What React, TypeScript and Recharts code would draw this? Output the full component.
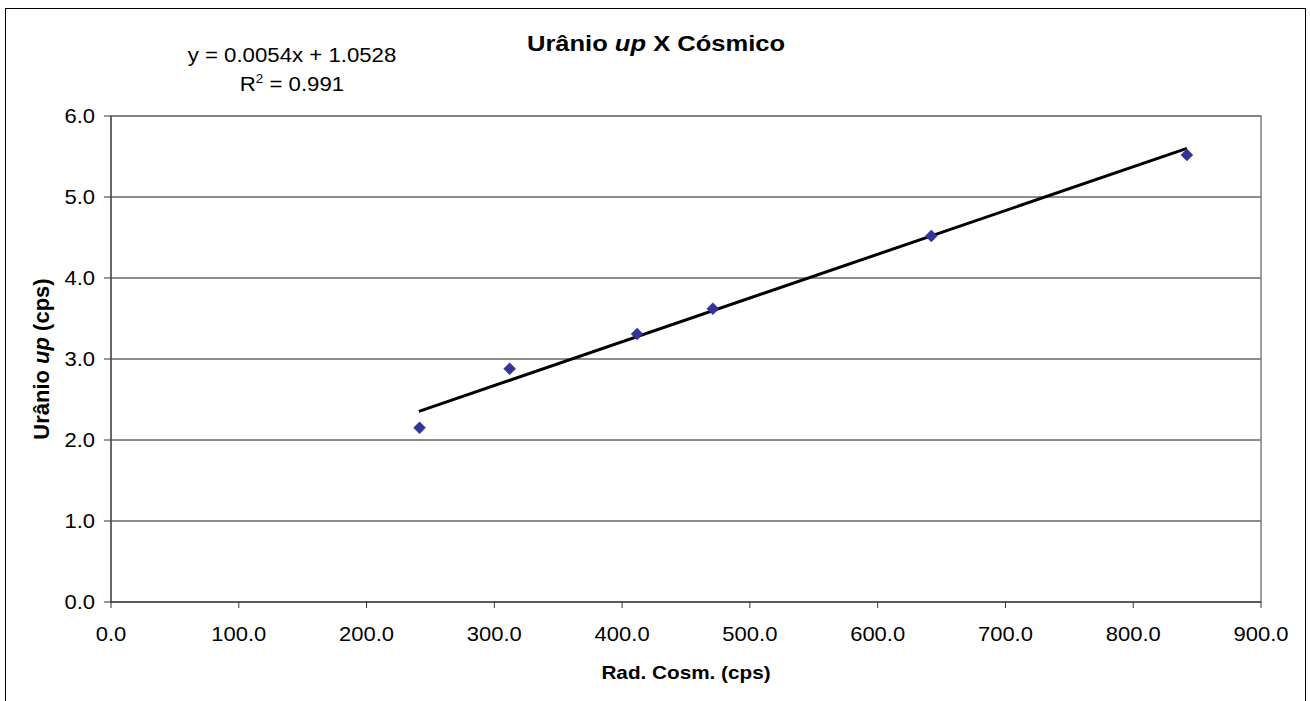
import React from "react";
import {
  ScatterChart,
  Scatter,
  XAxis,
  YAxis,
  CartesianGrid,
  ReferenceLine,
  ReferenceArea,
} from "recharts";

const cosmic = [241.5, 312, 411.7, 471, 642, 842];
const uranium = [2.15, 2.88, 3.31, 3.62, 4.52, 5.52];
const trendX = [241, 842];
const trendY = [2.354, 5.6];
const xTicks = [0, 100, 200, 300, 400, 500, 600, 700, 800, 900];
const yTicks = [0, 1, 2, 3, 4, 5, 6];

const points = cosmic.map((x, i) => ({ x, y: uranium[i] }));
const FONT = "'Liberation Sans', Arial, sans-serif";

const Diamond = (props: any) => {
  const { cx, cy } = props;
  const r = 6;
  return (
    <polygon
      points={`${cx},${cy - r} ${cx + r},${cy} ${cx},${cy + r} ${cx - r},${cy}`}
      fill="#333399"
      stroke="#333399"
      strokeWidth={0.5}
    />
  );
};

const XTick = (props: any) => {
  const { x, y, payload } = props;
  return (
    <text
      x={x}
      y={y}
      dy="0.71em"
      textAnchor="middle"
      fill="#000"
      fontSize={20}
      fontFamily={FONT}
      transform={`translate(${x},0) scale(1.1,1) translate(${-x},0)`}
    >
      {Number(payload.value).toFixed(1)}
    </text>
  );
};

const YTick = (props: any) => {
  const { x, y, payload } = props;
  return (
    <text
      x={x}
      y={y}
      dy="0.355em"
      textAnchor="end"
      fill="#000"
      fontSize={20}
      fontFamily={FONT}
      transform={`translate(${x},0) scale(1.1,1) translate(${-x},0)`}
    >
      {Number(payload.value).toFixed(1)}
    </text>
  );
};

export default function App() {
  return (
    <div
      style={{
        position: "absolute",
        left: 0,
        top: 0,
        width: 1310,
        height: 701,
        overflow: "hidden",
        background: "#fff",
        fontFamily: FONT,
      }}
    >
      <div
        style={{
          position: "absolute",
          left: 5,
          top: 8,
          width: 1299,
          height: 720,
          border: "1px solid #000",
        }}
      />
      <div style={{ position: "absolute", left: 0, top: 0 }}>
        <ScatterChart
          width={1310}
          height={701}
          margin={{ top: 116, right: 49, bottom: 39, left: 51 }}
        >
          <ReferenceArea
            x1={0}
            x2={900}
            y1={0}
            y2={6}
            fill="none"
            stroke="#808080"
            strokeWidth={1.5}
          />
          <CartesianGrid vertical={false} stroke="#1a1a1a" strokeWidth={1} />
          <XAxis
            type="number"
            dataKey="x"
            domain={[0, 900]}
            ticks={xTicks}
            interval={0}
            height={60}
            tickSize={6}
            tickMargin={19}
            stroke="#333"
            tick={<XTick />}
            allowDataOverflow
          />
          <YAxis
            type="number"
            dataKey="y"
            domain={[0, 6]}
            ticks={yTicks}
            interval={0}
            width={60}
            tickSize={7}
            tickMargin={9}
            stroke="#333"
            tick={<YTick />}
            allowDataOverflow
          />
          <ReferenceLine
            segment={[
              { x: trendX[0], y: trendY[0] },
              { x: trendX[1], y: trendY[1] },
            ]}
            stroke="#000"
            strokeWidth={3}
          />
          <Scatter data={points} shape={<Diamond />} isAnimationActive={false} />
        </ScatterChart>
      </div>
      <div
        style={{
          position: "absolute",
          left: 456,
          width: 400,
          top: 31,
          textAlign: "center",
          fontWeight: "bold",
          fontSize: 22,
          lineHeight: "26px",
          transform: "scaleX(1.16)",
        }}
      >
        Urânio <i>up</i> X Cósmico
      </div>
      <div
        style={{
          position: "absolute",
          left: 142,
          width: 300,
          top: 41,
          textAlign: "center",
          fontSize: 20,
          lineHeight: "29px",
          transform: "scaleX(1.11)",
        }}
      >
        <div>y = 0.0054x + 1.0528</div>
        <div>
          R<sup style={{ fontSize: 12, lineHeight: 0 }}>2</sup> = 0.991
        </div>
      </div>
      <div
        style={{
          position: "absolute",
          left: 486,
          width: 400,
          top: 661,
          textAlign: "center",
          fontWeight: "bold",
          fontSize: 19,
          lineHeight: "24px",
          transform: "scaleX(1.09)",
        }}
      >
        Rad. Cosm. (cps)
      </div>
      <div
        style={{
          position: "absolute",
          left: 42 - 150,
          top: 359 - 14,
          width: 300,
          height: 28,
          textAlign: "center",
          fontWeight: "bold",
          fontSize: 22,
          lineHeight: "28px",
          transform: "rotate(-90deg)",
        }}
      >
        Urânio <i>up</i> (cps)
      </div>
    </div>
  );
}
